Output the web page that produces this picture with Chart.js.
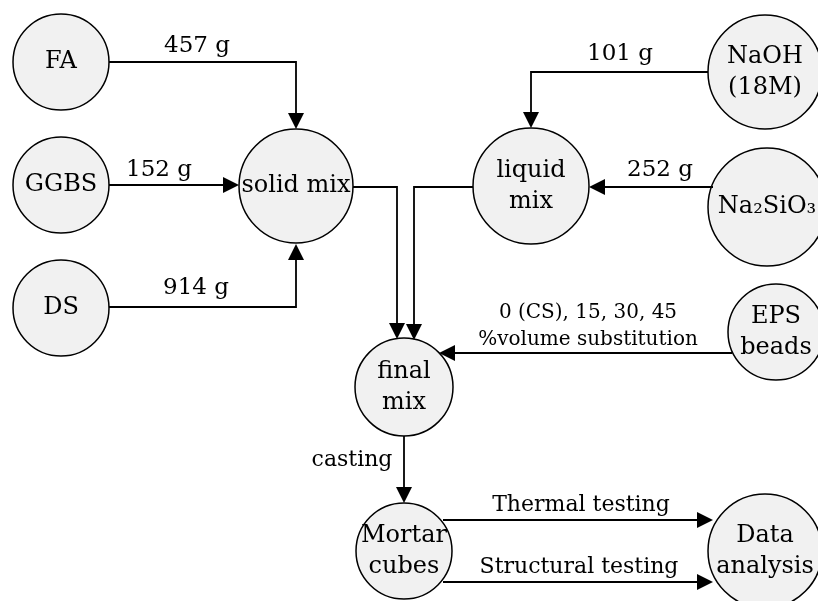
<!DOCTYPE html>
<html>
<head>
<meta charset="utf-8">
<script src="https://cdn.jsdelivr.net/npm/chart.js@4/dist/chart.umd.min.js"></script>
<style>
  body { margin: 0; background: #fff; }
  #wrap { width: 818px; height: 601px; }
</style>
</head>
<body>
<div id="wrap"><canvas id="flow"></canvas></div>
<script>
// nodes of the flow diagram (centre and radius in diagram units)
const nodeNames = ["FA", "GGBS", "DS", "solid mix", "NaOH\n(18M)", "liquid\nmix", "Na₂SiO₃", "EPS\nbeads", "final\nmix", "Mortar\ncubes", "Data\nanalysis"];
const nodeX = [61, 61, 61, 296, 765, 531, 767, 776, 404, 404, 765];
const nodeY = [62, 185, 308, 186, 72, 186, 207, 332, 387, 551, 551];
const nodeR = [48, 48, 48, 57, 57, 58, 59, 48, 49, 48, 57];

// arrows, as waypoint lists (last point is the arrow tip)
const edgePaths = [
  [[109, 62], [296, 62], [296, 129]],
  [[109, 185], [239, 185]],
  [[109, 307], [296, 307], [296, 244]],
  [[353, 187], [397, 187], [397, 339]],
  [[708, 72], [531, 72], [531, 128]],
  [[713, 187], [589, 187]],
  [[473, 187], [414, 187], [414, 340]],
  [[732, 353], [439, 353]],
  [[404, 436], [404, 503]],
  [[443, 520], [713, 520]],
  [[443, 582], [713, 582]]
];

// arrow labels
const edgeLabels = ["457 g", "152 g", "914 g", "101 g", "252 g", "0 (CS), 15, 30, 45", "%volume substitution", "casting", "Thermal testing", "Structural testing"];
const edgeLabelX = [197, 159, 196, 620, 660, 588, 588, 352, 581, 579];
const edgeLabelY = [46, 170, 288, 54, 170, 313, 340, 460, 505, 567];
const edgeLabelSize = [23, 23, 23, 23, 23, 20, 20, 22, 22, 22];

const FONT = '"DejaVu Serif", "Liberation Serif", serif';

const diagramPlugin = {
  id: "diagram",
  afterDatasetsDraw(chart) {
    const { ctx, scales: { x, y } } = chart;
    const px = v => x.getPixelForValue(v);
    const py = v => y.getPixelForValue(v);
    ctx.save();
    ctx.strokeStyle = "#000";
    ctx.fillStyle = "#000";
    ctx.lineWidth = 1.8;

    edgePaths.forEach(path => {
      const pts = path.map(p => [px(p[0]), py(p[1])]);
      const tip = pts[pts.length - 1];
      const prev = pts[pts.length - 2];
      const ang = Math.atan2(tip[1] - prev[1], tip[0] - prev[0]);
      const len = 16, half = 8;
      const base = [tip[0] - len * Math.cos(ang), tip[1] - len * Math.sin(ang)];
      ctx.beginPath();
      ctx.moveTo(pts[0][0], pts[0][1]);
      for (let i = 1; i < pts.length - 1; i++) ctx.lineTo(pts[i][0], pts[i][1]);
      ctx.lineTo(base[0], base[1]);
      ctx.stroke();
      ctx.beginPath();
      ctx.moveTo(tip[0], tip[1]);
      ctx.lineTo(base[0] + half * Math.sin(ang), base[1] - half * Math.cos(ang));
      ctx.lineTo(base[0] - half * Math.sin(ang), base[1] + half * Math.cos(ang));
      ctx.closePath();
      ctx.fill();
    });

    ctx.textAlign = "center";
    ctx.textBaseline = "middle";
    ctx.font = "24px " + FONT;
    nodeNames.forEach((name, i) => {
      const lines = name.split("\n");
      const lh = 31;
      lines.forEach((ln, k) => {
        ctx.fillText(ln, px(nodeX[i]), py(nodeY[i]) + (k - (lines.length - 1) / 2) * lh);
      });
    });

    edgeLabels.forEach((t, i) => {
      ctx.font = edgeLabelSize[i] + "px " + FONT;
      ctx.fillText(t, px(edgeLabelX[i]), py(edgeLabelY[i]));
    });
    ctx.restore();
  }
};

new Chart(document.getElementById("flow"), {
  type: "bubble",
  data: {
    datasets: [{
      data: nodeX.map((v, i) => ({ x: v, y: nodeY[i], r: nodeR[i] })),
      backgroundColor: "#f1f1f1",
      borderColor: "#000",
      borderWidth: 1.5,
      hoverRadius: 0,
      clip: false
    }]
  },
  options: {
    responsive: true,
    maintainAspectRatio: false,
    animation: false,
    events: [],
    layout: { padding: 0, autoPadding: false },
    plugins: { legend: { display: false }, tooltip: { enabled: false } },
    scales: {
      x: { type: "linear", min: 0, max: 818, display: false },
      y: { type: "linear", min: 0, max: 601, reverse: true, display: false }
    }
  },
  plugins: [diagramPlugin]
});
</script>
</body>
</html>
